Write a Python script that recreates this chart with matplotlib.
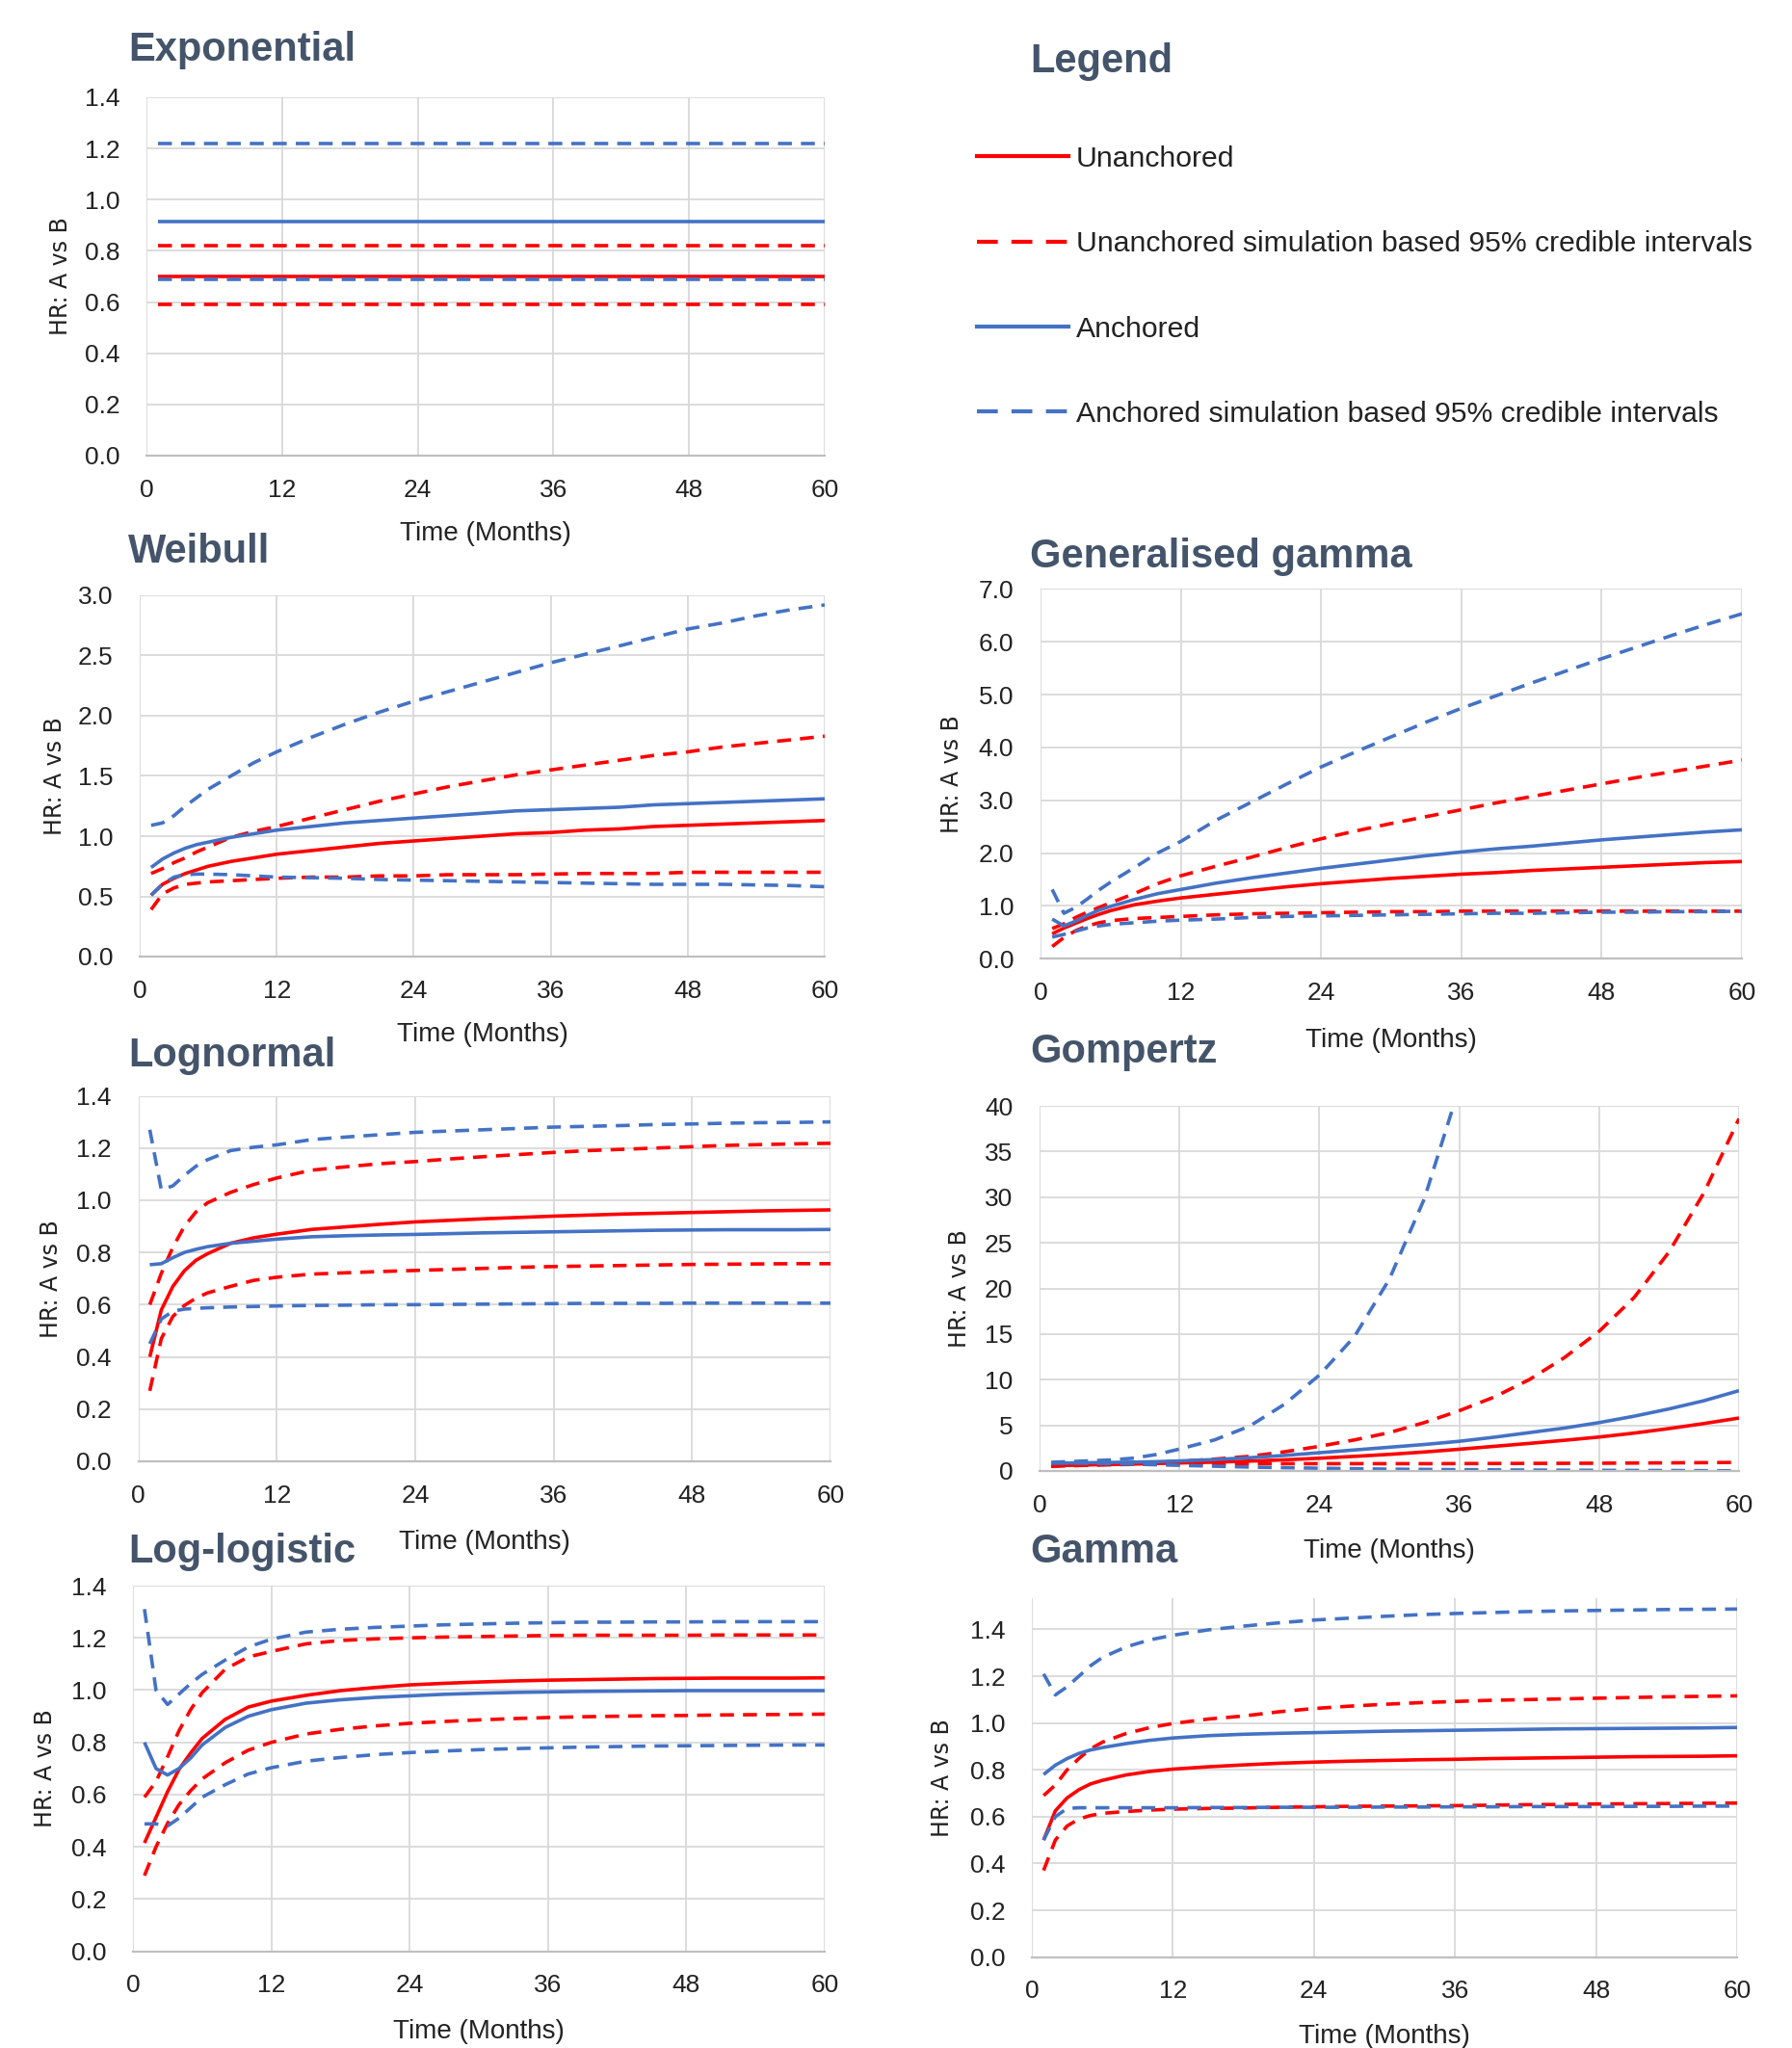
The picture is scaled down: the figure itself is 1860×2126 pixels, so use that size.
import numpy as np
import matplotlib.pyplot as plt
from matplotlib.lines import Line2D

plt.rcParams['font.family'] = ['Liberation Sans', 'DejaVu Sans']

RED = '#FF0000'
BLUE = '#4472C4'
TITLE_C = '#44546A'
GRID_C = '#D9D9D9'
LW = 2.6
DASH = (0, (4.0, 2.6))

W, H = 1860, 2126

# ---- data (HR: A vs B by month) ----
months = [1, 2, 3, 4, 5, 6, 8, 10, 12, 15, 18, 21, 24, 27, 30, 33, 36, 39, 42, 45, 48, 51, 54, 57, 60]

# Exponential: constant over time
exp_months = [1, 60]
exp_un = [0.70, 0.70]
exp_un_lo = [0.59, 0.59]
exp_un_hi = [0.82, 0.82]
exp_an = [0.915, 0.915]
exp_an_lo = [0.69, 0.69]
exp_an_hi = [1.218, 1.218]

# Weibull
weib_un = [0.51, 0.60, 0.65, 0.69, 0.72, 0.75, 0.79, 0.82, 0.85, 0.88, 0.91, 0.94, 0.96, 0.98, 1.00,
           1.02, 1.03, 1.05, 1.06, 1.08, 1.09, 1.10, 1.11, 1.12, 1.13]
weib_un_lo = [0.39, 0.52, 0.57, 0.60, 0.61, 0.62, 0.63, 0.64, 0.65, 0.66, 0.66, 0.67, 0.67, 0.68, 0.68,
              0.68, 0.685, 0.69, 0.69, 0.69, 0.70, 0.70, 0.70, 0.70, 0.70]
weib_un_hi = [0.69, 0.73, 0.78, 0.82, 0.87, 0.91, 0.99, 1.04, 1.08, 1.15, 1.22, 1.29, 1.35, 1.41, 1.46,
              1.51, 1.55, 1.59, 1.63, 1.67, 1.70, 1.74, 1.77, 1.80, 1.83]
weib_an = [0.74, 0.81, 0.86, 0.90, 0.93, 0.95, 0.99, 1.02, 1.05, 1.08, 1.11, 1.13, 1.15, 1.17, 1.19,
           1.21, 1.22, 1.23, 1.24, 1.26, 1.27, 1.28, 1.29, 1.30, 1.31]
weib_an_lo = [0.51, 0.60, 0.66, 0.68, 0.685, 0.685, 0.68, 0.67, 0.66, 0.655, 0.65, 0.64, 0.635, 0.63, 0.625,
              0.62, 0.615, 0.61, 0.605, 0.60, 0.60, 0.60, 0.595, 0.59, 0.58]
weib_an_hi = [1.09, 1.11, 1.17, 1.25, 1.32, 1.39, 1.50, 1.61, 1.70, 1.82, 1.93, 2.03, 2.12, 2.20, 2.28,
              2.36, 2.44, 2.51, 2.58, 2.65, 2.72, 2.77, 2.83, 2.88, 2.92]

# Lognormal
ln_un = [0.40, 0.58, 0.67, 0.73, 0.77, 0.795, 0.835, 0.856, 0.87, 0.888, 0.898, 0.908, 0.917, 0.923, 0.929,
         0.934, 0.939, 0.943, 0.947, 0.95, 0.953, 0.956, 0.959, 0.961, 0.963]
ln_un_lo = [0.27, 0.47, 0.555, 0.597, 0.625, 0.645, 0.67, 0.693, 0.705, 0.717, 0.722, 0.727, 0.731, 0.735, 0.739,
            0.743, 0.746, 0.748, 0.75, 0.752, 0.754, 0.755, 0.756, 0.757, 0.757]
ln_un_hi = [0.60, 0.72, 0.82, 0.90, 0.955, 0.99, 1.03, 1.06, 1.085, 1.115, 1.128, 1.14, 1.148, 1.158, 1.167,
            1.175, 1.183, 1.19, 1.195, 1.20, 1.205, 1.21, 1.213, 1.216, 1.218]
ln_an = [0.753, 0.757, 0.78, 0.80, 0.812, 0.822, 0.835, 0.843, 0.851, 0.86, 0.864, 0.867, 0.869, 0.872, 0.875,
         0.877, 0.879, 0.881, 0.883, 0.885, 0.886, 0.887, 0.887, 0.887, 0.888]
ln_an_lo = [0.45, 0.545, 0.575, 0.583, 0.586, 0.588, 0.591, 0.593, 0.595, 0.597, 0.598, 0.60, 0.60, 0.601, 0.602,
            0.603, 0.604, 0.605, 0.605, 0.605, 0.606, 0.606, 0.606, 0.606, 0.606]
ln_an_hi = [1.27, 1.04, 1.055, 1.095, 1.13, 1.155, 1.19, 1.203, 1.212, 1.232, 1.242, 1.251, 1.26, 1.265, 1.27,
            1.275, 1.28, 1.283, 1.286, 1.29, 1.292, 1.295, 1.297, 1.298, 1.30]

# Log-logistic
ll_un = [0.415, 0.513, 0.611, 0.697, 0.759, 0.815, 0.888, 0.935, 0.958, 0.98, 0.998, 1.01, 1.02, 1.026, 1.031,
         1.035, 1.038, 1.04, 1.042, 1.044, 1.045, 1.046, 1.046, 1.046, 1.047]
ll_un_lo = [0.29, 0.40, 0.49, 0.562, 0.615, 0.66, 0.722, 0.77, 0.80, 0.832, 0.85, 0.863, 0.873, 0.88, 0.886,
            0.891, 0.895, 0.898, 0.90, 0.902, 0.903, 0.905, 0.906, 0.907, 0.908]
ll_un_hi = [0.59, 0.65, 0.745, 0.845, 0.925, 0.99, 1.08, 1.127, 1.148, 1.177, 1.19, 1.196, 1.20, 1.203, 1.205,
            1.207, 1.209, 1.21, 1.21, 1.21, 1.21, 1.211, 1.211, 1.211, 1.211]
ll_an = [0.80, 0.70, 0.675, 0.70, 0.74, 0.79, 0.857, 0.90, 0.925, 0.95, 0.963, 0.972, 0.978, 0.984, 0.988,
         0.991, 0.993, 0.995, 0.996, 0.997, 0.998, 0.998, 0.998, 0.998, 0.998]
ll_an_lo = [0.488, 0.488, 0.48, 0.51, 0.55, 0.59, 0.638, 0.679, 0.703, 0.728, 0.742, 0.753, 0.761, 0.767, 0.772,
            0.776, 0.779, 0.782, 0.784, 0.786, 0.787, 0.788, 0.789, 0.79, 0.79]
ll_an_hi = [1.31, 1.0, 0.945, 0.985, 1.025, 1.06, 1.115, 1.165, 1.195, 1.222, 1.233, 1.24, 1.245, 1.25, 1.253,
            1.256, 1.258, 1.26, 1.26, 1.261, 1.261, 1.262, 1.262, 1.262, 1.262]

# Generalised gamma
gg_un = [0.47, 0.58, 0.67, 0.76, 0.84, 0.91, 1.02, 1.09, 1.15, 1.22, 1.29, 1.36, 1.42, 1.47, 1.52,
         1.56, 1.60, 1.63, 1.67, 1.70, 1.73, 1.76, 1.79, 1.82, 1.84]
gg_un_lo = [0.23, 0.40, 0.53, 0.62, 0.68, 0.72, 0.76, 0.78, 0.80, 0.83, 0.85, 0.86, 0.87, 0.88, 0.89,
            0.89, 0.90, 0.90, 0.90, 0.90, 0.90, 0.90, 0.90, 0.90, 0.90]
gg_un_hi = [0.57, 0.66, 0.78, 0.88, 0.97, 1.06, 1.23, 1.42, 1.57, 1.75, 1.92, 2.10, 2.27, 2.42, 2.56,
            2.69, 2.82, 2.95, 3.07, 3.19, 3.31, 3.43, 3.54, 3.65, 3.76]
gg_an = [0.75, 0.62, 0.71, 0.82, 0.92, 0.99, 1.12, 1.23, 1.31, 1.43, 1.53, 1.62, 1.71, 1.79, 1.87,
         1.95, 2.02, 2.08, 2.13, 2.19, 2.25, 2.30, 2.35, 2.40, 2.44]
gg_an_lo = [0.41, 0.46, 0.52, 0.58, 0.62, 0.65, 0.68, 0.71, 0.73, 0.75, 0.78, 0.80, 0.81, 0.82, 0.83,
            0.84, 0.85, 0.86, 0.86, 0.87, 0.88, 0.88, 0.89, 0.89, 0.90]
gg_an_hi = [1.31, 0.86, 0.97, 1.13, 1.30, 1.45, 1.72, 2.00, 2.22, 2.62, 2.96, 3.30, 3.63, 3.92, 4.20,
            4.48, 4.74, 4.98, 5.22, 5.45, 5.68, 5.90, 6.12, 6.33, 6.53]

# Gompertz (upper anchored interval leaves the chart after ~35 months)
gz_un = [0.55, 0.60, 0.63, 0.66, 0.69, 0.71, 0.76, 0.82, 0.88, 0.97, 1.08, 1.22, 1.40, 1.60, 1.82,
         2.08, 2.38, 2.70, 3.02, 3.36, 3.72, 4.15, 4.65, 5.20, 5.80]
gz_un_lo = [0.50, 0.55, 0.58, 0.62, 0.65, 0.68, 0.72, 0.75, 0.77, 0.79, 0.80, 0.80, 0.80, 0.80, 0.80,
            0.80, 0.81, 0.82, 0.83, 0.84, 0.85, 0.87, 0.89, 0.91, 0.94]
gz_un_hi = [0.60, 0.65, 0.70, 0.72, 0.75, 0.78, 0.85, 0.95, 1.05, 1.30, 1.60, 2.10, 2.70, 3.40, 4.20,
            5.30, 6.60, 8.10, 10.0, 12.4, 15.3, 19.0, 24.0, 30.5, 38.6]
gz_an = [0.85, 0.87, 0.88, 0.90, 0.92, 0.93, 0.97, 1.02, 1.10, 1.25, 1.45, 1.70, 2.00, 2.30, 2.60,
         2.90, 3.25, 3.70, 4.20, 4.70, 5.30, 6.00, 6.80, 7.70, 8.80]
gz_an_lo = [0.90, 0.88, 0.87, 0.85, 0.83, 0.80, 0.75, 0.68, 0.62, 0.52, 0.43, 0.36, 0.30, 0.25, 0.20,
            0.17, 0.14, 0.12, 0.10, 0.08, 0.07, 0.06, 0.05, 0.03, 0.02]
gz_an_hi = [0.95, 1.00, 1.05, 1.10, 1.15, 1.20, 1.40, 1.80, 2.40, 3.40, 4.90, 7.30, 10.5, 14.7, 21.0,
            29.8, 42.0, np.nan, np.nan, np.nan, np.nan, np.nan, np.nan, np.nan, np.nan]

# Gamma
gm_un = [0.50, 0.625, 0.68, 0.715, 0.74, 0.755, 0.778, 0.793, 0.803, 0.813, 0.821, 0.828, 0.833, 0.837, 0.84,
         0.843, 0.845, 0.848, 0.85, 0.852, 0.854, 0.856, 0.857, 0.858, 0.86]
gm_un_lo = [0.37, 0.50, 0.56, 0.59, 0.605, 0.614, 0.622, 0.628, 0.632, 0.635, 0.637, 0.64, 0.642, 0.644, 0.645,
            0.646, 0.647, 0.649, 0.651, 0.652, 0.654, 0.655, 0.656, 0.657, 0.658]
gm_un_hi = [0.69, 0.735, 0.80, 0.848, 0.89, 0.918, 0.955, 0.98, 0.998, 1.017, 1.03, 1.048, 1.062, 1.072, 1.08,
            1.087, 1.092, 1.097, 1.10, 1.103, 1.106, 1.109, 1.112, 1.114, 1.116]
gm_an = [0.78, 0.82, 0.848, 0.87, 0.885, 0.895, 0.912, 0.926, 0.936, 0.946, 0.952, 0.956, 0.959, 0.962, 0.965,
         0.967, 0.969, 0.971, 0.973, 0.975, 0.976, 0.977, 0.978, 0.979, 0.981]
gm_an_lo = [0.50, 0.60, 0.635, 0.638, 0.638, 0.638, 0.638, 0.638, 0.638, 0.639, 0.639, 0.64, 0.64, 0.64, 0.641,
            0.641, 0.642, 0.642, 0.643, 0.643, 0.643, 0.644, 0.644, 0.645, 0.645]
gm_an_hi = [1.21, 1.12, 1.155, 1.20, 1.245, 1.28, 1.325, 1.355, 1.375, 1.398, 1.414, 1.428, 1.44, 1.448, 1.456,
            1.463, 1.468, 1.472, 1.476, 1.479, 1.481, 1.483, 1.485, 1.486, 1.487]

legend_labels = ['Unanchored', 'Unanchored simulation based 95% credible intervals',
                 'Anchored', 'Anchored simulation based 95% credible intervals']
x_ticks = [0, 12, 24, 36, 48, 60]


def rect(l, t, r, b):
    return [l / W, 1 - b / H, (r - l) / W, (b - t) / H]


fig = plt.figure(figsize=(W / 100, H / 100), dpi=100)

# (title, x, series, box px, title px, ylabel x px, xlabel y px, ytop, ystep, fmt)
panels = [
    ('Exponential', exp_months, (exp_un, exp_un_lo, exp_un_hi, exp_an, exp_an_lo, exp_an_hi),
     (152, 101, 856, 473), (133, 63.5), 63, 554, 1.4, 0.2, '{:.1f}'),
    ('Weibull', months, (weib_un, weib_un_lo, weib_un_hi, weib_an, weib_an_lo, weib_an_hi),
     (145, 618, 856, 993), (133, 583.6), 57, 1074, 3.0, 0.5, '{:.1f}'),
    ('Lognormal', months, (ln_un, ln_un_lo, ln_un_hi, ln_an, ln_an_lo, ln_an_hi),
     (143.5, 1137.5, 862, 1517), (133, 1107.5), 53, 1601, 1.4, 0.2, '{:.1f}'),
    ('Log-logistic', months, (ll_un, ll_un_lo, ll_un_hi, ll_an, ll_an_lo, ll_an_hi),
     (138, 1646, 856, 2025.7), (133, 1621.8), 47, 2109, 1.4, 0.2, '{:.1f}'),
    ('Generalised gamma', months, (gg_un, gg_un_lo, gg_un_hi, gg_an, gg_an_lo, gg_an_hi),
     (1080, 611.4, 1808, 995.2), (1069, 588.9), 988, 1080, 7.0, 1.0, '{:.1f}'),
    ('Gompertz', months, (gz_un, gz_un_lo, gz_un_hi, gz_an, gz_an_lo, gz_an_hi),
     (1079, 1148, 1805, 1527), (1069, 1102.8), 996, 1610, 40, 5, '{:.0f}'),
    ('Gamma', months, (gm_un, gm_un_lo, gm_un_hi, gm_an, gm_an_lo, gm_an_hi),
     (1071, 1659.4, 1803, 2031.6), (1069, 1622.5), 978, 2114, 1.532, 0.2, '{:.1f}'),
]

for title, x, (un, un_lo, un_hi, an, an_lo, an_hi), box, tpos, ylx, xly, ytop, ystep, fmt in panels:
    l, t, r, b = box
    ax = fig.add_axes(rect(l, t, r, b))
    ax.plot(x, un, color=RED, lw=LW, solid_capstyle='butt')
    ax.plot(x, un_lo, color=RED, lw=LW, ls=DASH, dash_capstyle='butt')
    ax.plot(x, un_hi, color=RED, lw=LW, ls=DASH, dash_capstyle='butt')
    ax.plot(x, an, color=BLUE, lw=LW, solid_capstyle='butt')
    ax.plot(x, an_lo, color=BLUE, lw=LW, ls=DASH, dash_capstyle='butt')
    ax.plot(x, an_hi, color=BLUE, lw=LW, ls=DASH, dash_capstyle='butt')

    ax.set_xlim(0, 60)
    ax.set_ylim(0, ytop)
    ax.set_xticks(x_ticks)
    yt = np.arange(0, ytop + 1e-9, ystep)
    ax.set_yticks(yt)
    ax.set_yticklabels([fmt.format(v) for v in yt])
    ax.set_axisbelow(True)
    ax.grid(True, color=GRID_C, lw=1.3)
    for s in ['top', 'left', 'right']:
        ax.spines[s].set_visible(False)
    ax.spines['bottom'].set_color('#BFBFBF')
    ax.spines['bottom'].set_linewidth(1.6)
    ax.tick_params(length=0, labelsize=19, labelcolor='#222222')
    ax.tick_params(axis='x', pad=17)
    ax.tick_params(axis='y', pad=20)

    fig.text(tpos[0] / W, 1 - tpos[1] / H, title, fontsize=30, fontweight='bold',
             color=TITLE_C, ha='left', va='baseline')
    fig.text(ylx / W, 1 - (t + b) / 2 / H, 'HR: A vs B', rotation=90, ha='center', va='center',
             fontsize=17, family='DejaVu Sans', color='#222222')
    fig.text((l + r) / 2 / W, 1 - xly / H, 'Time (Months)', ha='center', va='center',
             fontsize=20, color='#222222')

# legend panel
fig.text(1069 / W, 1 - 75.5 / H, 'Legend', fontsize=30, fontweight='bold',
         color=TITLE_C, ha='left', va='baseline')
handles = [
    Line2D([], [], color=RED, lw=3.0),
    Line2D([], [], color=RED, lw=3.0, ls=(0, (5.2, 3.4))),
    Line2D([], [], color=BLUE, lw=3.0),
    Line2D([], [], color=BLUE, lw=3.0, ls=(0, (5.2, 3.4))),
]
fig.legend(handles, legend_labels, loc='upper left', bbox_to_anchor=(1014 / W, 1 - 151 / H),
           frameon=False, fontsize=21.7, handlelength=3.15, handletextpad=0.26,
           labelspacing=2.0, borderpad=0, borderaxespad=0, labelcolor='#222222')

fig.savefig('out.png', dpi=100, facecolor='white')
